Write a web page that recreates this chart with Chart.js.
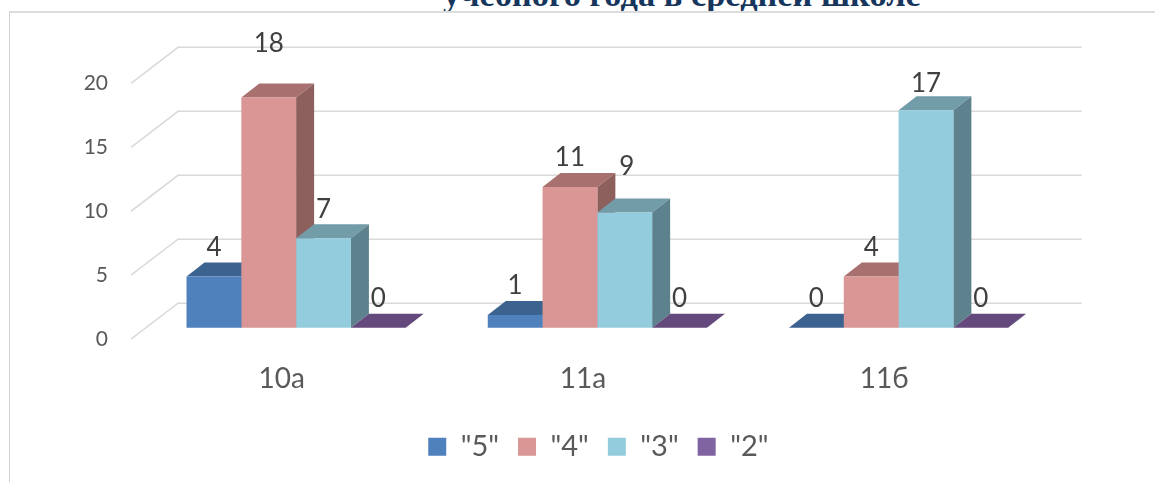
<!DOCTYPE html>
<html>
<head>
<meta charset="utf-8">
<script src="https://cdn.jsdelivr.net/npm/chart.js@4"></script>
<style>
html, body { margin: 0; padding: 0; background: #fff; overflow: hidden; }
#page { position: relative; width: 1155px; height: 482px; overflow: hidden; }
#title { position: absolute; left: 443px; top: -25px; white-space: nowrap; font: bold 34.4px "Liberation Serif", serif; color: #17365d; }
#frame { position: absolute; left: 9px; top: 11px; width: 1182px; height: 520px; border-left: 1px solid #cfcfcf; border-top: 2px solid #dcdcdc; }
canvas { position: absolute; left: 8px; top: 12px; }
</style>
</head>
<body>
<div id="page">
  <div id="title">учебного года в средней школе</div>
  <div id="frame"></div>
  <canvas id="chart" width="1182" height="520"></canvas>
</div>
<script>
const categories = ['10а', '11а', '11б'];
const seriesNames = ['"5"', '"4"', '"3"', '"2"'];
const values5 = [4, 1, 0];
const values4 = [18, 11, 4];
const values3 = [7, 9, 17];
const values2 = [0, 0, 0];
const colors = ['#4f81bd', '#d99694', '#93cddd', '#8064a2'];
const topColors = ['#3c6290', '#a8716f', '#729ca8', '#644a7c'];
const sideColors = ['#335378', '#8d5f5d', '#5e828d', '#54406a'];

// shift of the bars off the front plane, and the depth of each bar
const barShift = { x: 14.5, y: -11.5 };
const barDepth = { x: 18, y: 14 };
const wallDepth = { x: 47, y: -36 };

function face(ctx, color, pts) {
    ctx.fillStyle = color;
    ctx.beginPath();
    ctx.moveTo(pts[0][0], pts[0][1]);
    for (let i = 1; i < pts.length; ++i) {
        ctx.lineTo(pts[i][0], pts[i][1]);
    }
    ctx.closePath();
    ctx.fill();
}

// the walls and the sides of the bars are not something Chart.js has, so they are added here
const bars3d = {
    id: 'bars3d',
    afterLayout(chart) {
        // the legend sits in the middle of the whole frame, not of the plot
        chart.legend.left += 77;
        chart.legend.right += 77;
    },
    beforeDatasetsDraw(chart) {
        const ctx = chart.ctx;
        const area = chart.chartArea;
        const y = chart.scales.y;
        ctx.save();
        ctx.strokeStyle = '#dadada';
        ctx.lineWidth = 1.6;
        y.ticks.forEach((t) => {
            const py = y.getPixelForValue(t.value);
            ctx.beginPath();
            ctx.moveTo(area.left, py);
            ctx.lineTo(area.left + wallDepth.x, py + wallDepth.y);
            ctx.lineTo(area.right + wallDepth.x, py + wallDepth.y);
            ctx.stroke();
        });
        ctx.restore();

        ctx.save();
        ctx.translate(barShift.x, barShift.y);
        const dx = barDepth.x, dy = barDepth.y;
        for (let i = 0; i < categories.length; ++i) {
            chart.data.datasets.forEach((ds, d) => {
                const el = chart.getDatasetMeta(d).data[i];
                const l = el.x - el.width / 2, r = el.x + el.width / 2;
                face(ctx, topColors[d], [[l, el.y], [l + dx, el.y - dy], [r + dx, el.y - dy], [r, el.y]]);
                if (el.base - el.y > 0) {
                    face(ctx, sideColors[d], [[r, el.y], [r + dx, el.y - dy], [r + dx, el.base - dy], [r, el.base]]);
                }
            });
        }
    },
    afterDatasetsDraw(chart) {
        const ctx = chart.ctx;
        ctx.restore();
        ctx.save();
        ctx.fillStyle = '#404040';
        ctx.font = '26px Lato, "Open Sans", sans-serif';
        ctx.textAlign = 'center';
        ctx.textBaseline = 'middle';
        chart.data.datasets.forEach((ds, d) => {
            chart.getDatasetMeta(d).data.forEach((el, i) => {
                let lift = 29, nudge = 0;
                if (d == 1 && i == 0) lift = 54;
                if (d == 2 && i == 1) { lift = 46; nudge = 2; }
                if (d == 2 && i == 2) lift = 27;
                ctx.fillText(String(ds.data[i]), el.x + barShift.x + nudge, el.y + barShift.y - lift);
            });
        });
        ctx.restore();
    }
};

new Chart(document.getElementById('chart').getContext('2d'), {
    type: 'bar',
    plugins: [bars3d],
    data: {
        labels: categories,
        datasets: [values5, values4, values3, values2].map((v, i) => ({
            label: seriesNames[i],
            data: v,
            backgroundColor: colors[i],
            borderWidth: 0,
            categoryPercentage: 0.7276,
            barPercentage: 1,
            clip: false
        }))
    },
    options: {
        responsive: false,
        animation: false,
        layout: { padding: { left: 0, right: 155.3, top: 71.3, bottom: 60.7 } },
        plugins: {
            tooltip: { enabled: false },
            legend: {
                position: 'bottom',
                labels: {
                    boxWidth: 18,
                    boxHeight: 18,
                    padding: 19,
                    color: '#595959',
                    font: { family: 'Lato, "Open Sans", sans-serif', size: 29 }
                }
            }
        },
        scales: {
            x: {
                grid: { display: false },
                border: { display: false },
                afterFit: (s) => { s.height = 74.1; },
                ticks: {
                    padding: 15,
                    color: '#595959',
                    font: { family: 'Lato, "Open Sans", sans-serif', size: 28 }
                }
            },
            y: {
                min: 0,
                max: 20,
                grid: { display: false, drawTicks: false },
                border: { display: false },
                afterFit: (s) => { s.width = 123; },
                ticks: {
                    stepSize: 5,
                    padding: 23,
                    color: '#595959',
                    font: { family: 'Lato, "Open Sans", sans-serif', size: 21 }
                }
            }
        }
    }
});
</script>
</body>
</html>
